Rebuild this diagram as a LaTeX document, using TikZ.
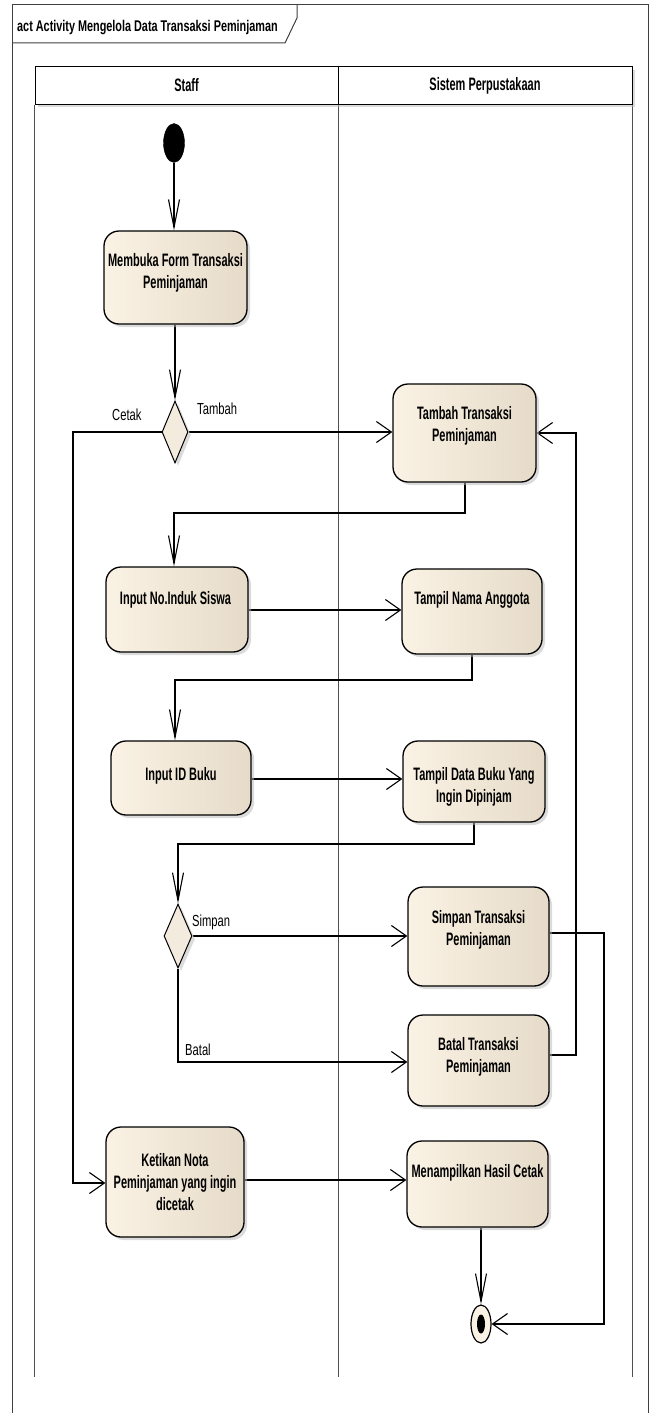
\documentclass[tikz,border=0pt]{standalone}
\usepackage{fontspec}
\setmainfont{Liberation Sans}
\newfontfamily\boxfont[FakeStretch=0.61]{Liberation Sans}
\newfontfamily\titlefont[FakeStretch=0.7]{Liberation Sans}
\newfontfamily\guardfont[FakeStretch=0.7]{Liberation Sans}
\usetikzlibrary{arrows.meta,shapes.geometric,shadows}

\definecolor{actleft}{HTML}{FAF2E4}
\definecolor{actright}{HTML}{E6DBC9}
\definecolor{decfill}{HTML}{F3EBDD}
\definecolor{lanegray}{HTML}{505050}
\definecolor{framegray}{HTML}{404040}

\pgfdeclarelayer{back}
\pgfsetlayers{back,main}

\tikzset{
  boxshadow/.style={drop shadow={shadow xshift=3pt, shadow yshift=-3pt, fill=black!28}},
  actbox/.style={draw=black, line width=1.3pt, rounded corners=15pt,
    left color=actleft, right color=actright, inner sep=0pt, boxshadow},
  acttext/.style={anchor=north, align=center, inner sep=0pt,
    font=\boxfont\bfseries\fontsize{18}{22.5}\selectfont},
  decision/.style={diamond, draw=black, line width=1pt, fill=decfill,
    inner sep=0pt, boxshadow},
  initnode/.style={ellipse, draw=black, fill=black, inner sep=0pt,
    minimum width=21pt, minimum height=39pt},
  finalnode/.style={ellipse, draw=black, line width=1.2pt, fill=actleft,
    inner sep=0pt, minimum width=20pt, minimum height=38pt},
  finaldot/.style={ellipse, fill=black, inner sep=0pt,
    minimum width=8pt, minimum height=19pt},
  lanehead/.style={draw=black, line width=1pt, fill=white, inner sep=0pt,
    minimum height=37pt, boxshadow,
    font=\boxfont\bfseries\fontsize{18}{22}\selectfont},
  laneline/.style={draw=lanegray, line width=1pt},
  guard/.style={anchor=base west, inner sep=0pt,
    font=\guardfont\fontsize{16}{19}\selectfont},
  vflow/.style={draw=black, line width=1.1pt,
    -{Straight Barb[length=28pt, width=11pt, line width=1.1pt]}},
  hflow/.style={draw=black, line width=1.1pt,
    -{Straight Barb[length=15pt, width=21pt, line width=1.1pt]}},
}

\begin{document}
\begin{tikzpicture}[x=1pt, y=-1pt]
\useasboundingbox (0,0) rectangle (656,1413);

% diagram frame and its name tab
\draw[framegray, line width=1pt] (12,1430) -- (12,5) -- (648,5) -- (648,1430);
\draw[framegray, line width=1pt] (12,43) -- (285,43) -- (297,18) -- (297,5);
\node[anchor=base west, inner sep=0pt,
  font=\titlefont\bfseries\fontsize{15.5}{18}\selectfont] (title) at (17,32)
  {act Activity Mengelola Data Transaksi Peminjaman};

% swimlanes
\node[lanehead, minimum width=303pt] (staffHead) at (186.5,85.5) {Staff};
\node[lanehead, minimum width=294pt] (sysHead) at (485,85.5) {Sistem Perpustakaan};
\coordinate (laneBottom) at (0,1377);

% start and end
\node[initnode] (start) at (174,143) {};
\node[finalnode] (end) at (481,1324) {};
\node[finaldot] (endDot) at (end.center) {};

% decisions
\node[decision, minimum width=26pt, minimum height=62pt] (pilih1) at (175,432) {};
\node[decision, minimum width=28pt, minimum height=64pt] (pilih2) at (178,936) {};

% actions
\node[actbox, minimum width=143pt, minimum height=93pt] (membuka) at (175.5,277.5) {};
\node[acttext] (membukaT) at (175.5,253) {Membuka Form Transaksi\\Peminjaman};

\node[actbox, minimum width=143pt, minimum height=98pt] (tambah) at (464.5,433) {};
\node[acttext] (tambahT) at (464.5,406) {Tambah Transaksi\\Peminjaman};

\node[actbox, minimum width=142pt, minimum height=85pt] (input1) at (177,609.5) {};
\node[acttext] (input1T) at (175.5,591) {Input No.Induk Siswa};

\node[actbox, minimum width=140pt, minimum height=85pt] (tampil1) at (472,611.5) {};
\node[acttext] (tampil1T) at (472,591) {Tampil Nama Anggota};

\node[actbox, minimum width=140pt, minimum height=74pt] (inputid) at (181,778) {};
\node[acttext] (inputidT) at (181,767) {Input ID Buku};

\node[actbox, minimum width=142pt, minimum height=81pt] (tampil2) at (474,781.5) {};
\node[acttext] (tampil2T) at (474,767) {Tampil Data Buku Yang\\Ingin Dipinjam};

\node[actbox, minimum width=141pt, minimum height=99pt] (simpan) at (478.5,936.5) {};
\node[acttext] (simpanT) at (478.5,910) {Simpan Transaksi\\Peminjaman};

\node[actbox, minimum width=141pt, minimum height=91pt] (batal) at (478.5,1060.5) {};
\node[acttext] (batalT) at (478.5,1037) {Batal Transaksi\\Peminjaman};

\node[actbox, minimum width=138pt, minimum height=110pt] (ketikan) at (175,1182) {};
\node[acttext, font=\boxfont\bfseries\fontsize{18}{22}\selectfont] (ketikanT) at (175,1153)
  {Ketikan Nota\\Peminjaman yang ingin\\dicetak};

\node[actbox, minimum width=141pt, minimum height=86pt] (tampilkan) at (477.5,1184) {};
\node[acttext] (tampilkanT) at (477.5,1164) {Menampilkan Hasil Cetak};

% guard labels
\node[guard] (gTambah) at (197,414) {Tambah};
\node[guard] (gCetak) at (112,420) {Cetak};
\node[guard] (gSimpan) at (192,926) {Simpan};
\node[guard] (gBatal) at (185,1055) {Batal};

% bend points of the routed flows
\coordinate (cetakL) at (73,432);
\coordinate (cetakB) at (73,1183);
\coordinate (bc) at (465,513);
\coordinate (bcL) at (174,513);
\coordinate (rowC) at (0,610);
\coordinate (de) at (472,680);
\coordinate (deL) at (175,680);
\coordinate (rowE) at (0,779);
\coordinate (fd) at (474,844);
\coordinate (fdL) at (178,844);
\coordinate (batalL) at (178,1062);
\coordinate (batalR) at (576,1055);
\coordinate (simpanR) at (604,933);
\coordinate (rowI) at (0,1180);

\begin{pgfonlayer}{back}
  % lane borders
  \draw[laneline] (staffHead.south west) -- (staffHead.south west |- laneBottom);
  \draw[laneline] (staffHead.south east) -- (staffHead.south east |- laneBottom);
  \draw[laneline] (sysHead.south east) -- (sysHead.south east |- laneBottom);

  % control flows
  \draw[vflow] (start.south) -- (start.south |- membuka.north);
  \draw[vflow] (pilih1.north |- membuka.south) -- (pilih1.north);
  \draw[hflow] (pilih1.east) -- (pilih1.east -| tambah.west);
  \draw[hflow] (pilih1.west) -- (cetakL) -- (cetakB) -- (cetakB -| ketikan.west);
  \draw[vflow] (tambah.south -| bc) -- (bc) -- (bcL) -- (bcL |- input1.north);
  \draw[hflow] (input1.east |- rowC) -- (tampil1.west |- rowC);
  \draw[vflow] (tampil1.south -| de) -- (de) -- (deL) -- (deL |- inputid.north);
  \draw[hflow] (inputid.east |- rowE) -- (tampil2.west |- rowE);
  \draw[vflow] (tampil2.south -| fd) -- (fd) -- (fdL) -- (pilih2.north);
  \draw[hflow] (pilih2.east) -- (pilih2.east -| simpan.west);
  \draw[hflow] (pilih2.south) -- (batalL) -- (batalL -| batal.west);
  \draw[hflow] (batal.east |- batalR) -- (batalR) -- (batalR |- tambah.east) -- (tambah.east);
  \draw[hflow] (simpan.east |- simpanR) -- (simpanR) -- (simpanR |- end.east) -- (end.east);
  \draw[hflow] (ketikan.east |- rowI) -- (tampilkan.west |- rowI);
  \draw[vflow] (tampilkan.south -| end.north) -- (end.north);
\end{pgfonlayer}
\end{tikzpicture}
\end{document}
